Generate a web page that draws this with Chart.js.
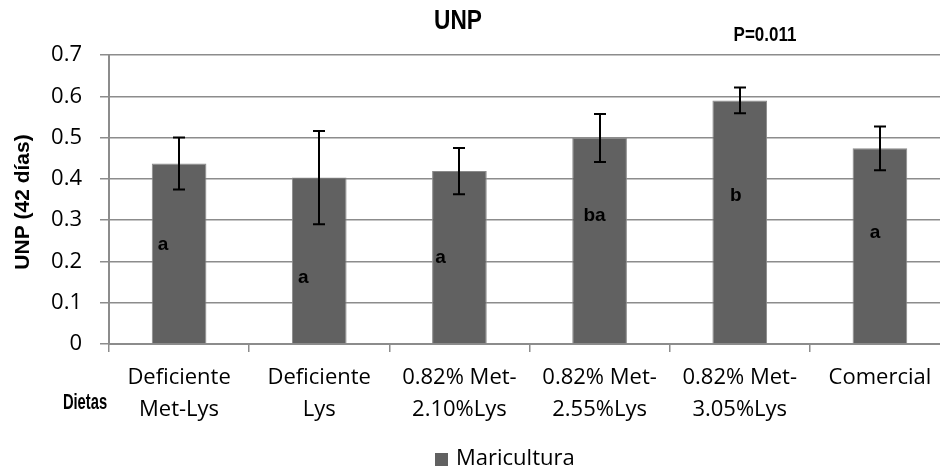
<!DOCTYPE html>
<html>
<head>
<meta charset="utf-8">
<script src="https://cdn.jsdelivr.net/npm/chart.js@4"></script>
<style>
  html, body { margin: 0; padding: 0; background: #fff; overflow: hidden; }
  #wrap { width: 960px; height: 469px; }
</style>
</head>
<body>
<div id="wrap"><canvas id="c" width="960" height="469"></canvas></div>
<script>
// UNP (42 días) by diet, Maricultura strain
const dietas = [
  ['Deficiente', 'Met-Lys'],
  ['Deficiente', 'Lys'],
  ['0.82% Met-', '2.10%Lys'],
  ['0.82% Met-', '2.55%Lys'],
  ['0.82% Met-', '3.05%Lys'],
  ['Comercial']
];
const unp = [0.437, 0.403, 0.419, 0.499, 0.590, 0.474];
const errores = [0.063, 0.113, 0.056, 0.058, 0.031, 0.053];
const letras = ['a', 'a', 'a', 'ba', 'b', 'a'];
const letrasY = [0.24, 0.16, 0.21, 0.31, 0.36, 0.27];
const yTicks = [0, 0.1, 0.2, 0.3, 0.4, 0.5, 0.6, 0.7];

const GRID = '#8c8c8c';
const BOLD = '"Liberation Sans", Arial, sans-serif';

// text drawn with a horizontal squeeze, for the condensed bold labels
function squeezed(ctx, text, x, y, font, sx) {
  ctx.save();
  ctx.translate(x, y);
  ctx.scale(sx, 1);
  ctx.font = font;
  ctx.fillText(text, 0, 0);
  ctx.restore();
}

const extras = {
  id: 'extras',
  afterDatasetsDraw(chart, args, opts) {
    const ctx = chart.ctx;
    const y = chart.scales.y;
    const bars = chart.getDatasetMeta(0).data;
    ctx.save();
    // error bars
    ctx.strokeStyle = '#000';
    ctx.lineWidth = 2;
    bars.forEach((b, i) => {
      const top = y.getPixelForValue(unp[i] + errores[i]);
      const bot = y.getPixelForValue(unp[i] - errores[i]);
      const cx = Math.round(b.x);
      ctx.beginPath();
      ctx.moveTo(cx, top); ctx.lineTo(cx, bot);
      ctx.moveTo(cx - 6, top); ctx.lineTo(cx + 6, top);
      ctx.moveTo(cx - 6, bot); ctx.lineTo(cx + 6, bot);
      ctx.stroke();
    });
    // significance letters
    ctx.fillStyle = '#000';
    ctx.font = 'bold 19px ' + BOLD;
    ctx.textAlign = 'center';
    ctx.textBaseline = 'middle';
    bars.forEach((b, i) => {
      ctx.fillText(letras[i], b.x + opts.letterShift[i], y.getPixelForValue(letrasY[i]));
    });
    ctx.restore();
  },
  afterDraw(chart) {
    const ctx = chart.ctx;
    ctx.save();
    ctx.fillStyle = '#000';
    ctx.textAlign = 'center';
    ctx.textBaseline = 'middle';
    // title and p-value
    squeezed(ctx, 'UNP', 458, 22, 'bold 27px ' + BOLD, 0.84);
    squeezed(ctx, 'P=0.011', 765, 35, 'bold 20px ' + BOLD, 0.85);
    // x axis title
    squeezed(ctx, 'Dietas', 85, 403, 'bold 22px ' + BOLD, 0.67);
    // y axis title
    ctx.save();
    ctx.translate(23, 202);
    ctx.rotate(-Math.PI / 2);
    ctx.font = 'bold 21px ' + BOLD;
    ctx.fillText('UNP (42 días)', 0, 0);
    ctx.restore();
    // legend
    ctx.fillStyle = '#616161';
    ctx.fillRect(435, 453, 13, 13);
    ctx.fillStyle = '#000';
    ctx.textAlign = 'left';
    ctx.font = '22px "Open Sans", sans-serif';
    ctx.fillText(chart.data.datasets[0].label, 456, 459);
    ctx.restore();
  }
};

new Chart(document.getElementById('c'), {
  type: 'bar',
  data: {
    labels: dietas,
    datasets: [{
      label: 'Maricultura',
      data: unp,
      backgroundColor: '#616161',
      borderColor: '#8a8a8a',
      borderWidth: 1,
      categoryPercentage: 0.39,
      barPercentage: 1
    }]
  },
  options: {
    responsive: false,
    animation: false,
    layout: { padding: { top: 55, right: 10, bottom: 0, left: 0 } },
    plugins: {
      legend: { display: false },
      title: { display: false },
      tooltip: { enabled: false },
      extras: { letterShift: [-16, -16, -19, -5, -4, -5] }
    },
    scales: {
      x: {
        afterFit(s) { s.height = 125; },
        grid: {
          offset: true,
          drawOnChartArea: false,
          drawTicks: true,
          tickLength: 8,
          color: GRID,
          lineWidth: 1.5
        },
        border: { color: GRID, width: 2 },
        ticks: {
          color: '#000',
          padding: 10,
          maxRotation: 0,
          autoSkip: false,
          font: { family: '"Open Sans", sans-serif', size: 22, lineHeight: 1.45 }
        }
      },
      y: {
        min: 0,
        max: 0.7,
        afterFit(s) { s.width = 109; },
        afterBuildTicks(s) { s.ticks = yTicks.map(v => ({ value: v })); },
        grid: {
          color: GRID,
          lineWidth: 1.5,
          tickLength: 9
        },
        border: { color: GRID, width: 2 },
        ticks: {
          color: '#000',
          padding: 18,
          font: { family: '"Open Sans", sans-serif', size: 22 },
          callback: v => String(+v.toFixed(1))
        }
      }
    }
  },
  plugins: [extras]
});
</script>
</body>
</html>
